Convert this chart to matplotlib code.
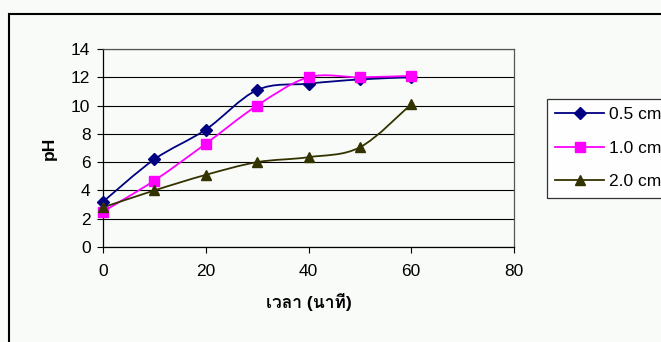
import matplotlib
matplotlib.use("Agg")
import matplotlib.pyplot as plt
from matplotlib.path import Path
from matplotlib.patches import PathPatch, Rectangle
from matplotlib.lines import Line2D
from matplotlib import font_manager
from matplotlib.ft2font import FT2Font

# ---- data ----
time_min = [0, 10, 20, 30, 40, 50, 60]
ph_05 = [3.2, 6.2, 8.3, 11.1, 11.55, 11.85, 12.0]
ph_10 = [2.5, 4.7, 7.3, 10.0, 12.0, 12.0, 12.1]
ph_20 = [2.8, 4.0, 5.1, 6.0, 6.35, 7.05, 10.1]
labels = ["0.5 cm", "1.0 cm", "2.0 cm"]
xticks = [0, 20, 40, 60, 80]
yticks = [0, 2, 4, 6, 8, 10, 12, 14]
xlabel = "เวลา (นาที)"
ylabel = "pH"

# ---- fonts ----
def find_thai_font():
    pref = []
    for f in font_manager.fontManager.ttflist:
        try:
            cm = FT2Font(f.fname).get_charmap()
        except Exception:
            continue
        if 0x0E40 in cm:
            pref.append(f)
    if pref:
        return pref[0].name
    return None

thai = find_thai_font()
base = ["Liberation Sans", "DejaVu Sans"]
fam = base + ([thai] if thai else [])
plt.rcParams["font.family"] = fam

W, H = 661, 342
bg = "#f9fbf9"
fig = plt.figure(figsize=(W / 100, H / 100), dpi=100, facecolor=bg)
ax = fig.add_axes([103 / W, 1 - 247 / H, (514 - 103) / W, (247 - 49) / H])
ax.set_facecolor(bg)

ax.set_xlim(0, 80)
ax.set_ylim(0, 14)
ax.set_xticks(xticks)
ax.set_yticks(yticks)
ax.tick_params(axis="both", direction="out", length=4, width=0.8, color="black",
               labelsize=12.5, pad=5)
ax.tick_params(axis="x", pad=8)
ax.yaxis.grid(True, color="black", linewidth=0.8)
ax.set_axisbelow(True)
for s in ["left", "bottom"]:
    ax.spines[s].set_color("black")
    ax.spines[s].set_linewidth(0.9)
for s in ["top", "right"]:
    ax.spines[s].set_color("#555555")
    ax.spines[s].set_linewidth(0.9)

def smooth_path(xs, ys):
    pts = list(zip(xs, ys))
    n = len(pts)
    verts = [pts[0]]
    codes = [Path.MOVETO]
    for i in range(n - 1):
        p0 = pts[i - 1] if i > 0 else pts[i]
        p1 = pts[i]
        p2 = pts[i + 1]
        p3 = pts[i + 2] if i + 2 < n else pts[i + 1]
        c1 = (p1[0] + (p2[0] - p0[0]) / 6, p1[1] + (p2[1] - p0[1]) / 6)
        c2 = (p2[0] - (p3[0] - p1[0]) / 6, p2[1] - (p3[1] - p1[1]) / 6)
        verts += [c1, c2, p2]
        codes += [Path.CURVE4] * 3
    return Path(verts, codes)

series = [
    (ph_05, "#000080", "D", 6.0),
    (ph_10, "#ff00ff", "s", 6.5),
    (ph_20, "#333300", "^", 7.5),
]
handles = []
for (ys, c, m, ms), lab in zip(series, labels):
    ax.add_patch(PathPatch(smooth_path(time_min, ys), fill=False, edgecolor=c,
                           linewidth=1.3, zorder=3))
    ax.plot(time_min, ys, linestyle="none", marker=m, markersize=ms,
            color=c, markeredgecolor=c, zorder=4, clip_on=False)
    handles.append(Line2D([], [], color=c, linewidth=1.3, marker=m, markersize=ms,
                          markeredgecolor=c))

ax.set_xlabel(xlabel, fontsize=12.5, fontweight="bold", labelpad=10)
ax.set_ylabel(ylabel, fontsize=12.5, fontweight="bold", labelpad=10)

leg = fig.legend(handles, labels, loc="upper left",
                 bbox_to_anchor=(547 / W, 1 - 99 / H), frameon=True,
                 fancybox=False, edgecolor="black", facecolor="white",
                 fontsize=12.5, handlelength=2.8, handletextpad=0.3,
                 labelspacing=1.05, borderpad=0.48, borderaxespad=0)
leg.get_frame().set_linewidth(0.9)

# outer chart-area border
fig.patches.append(Rectangle((9 / W, -0.1), 1.2, 1 - 14 / H + 0.1,
                             transform=fig.transFigure, fill=False,
                             edgecolor="black", linewidth=1.5))

fig.savefig("out.png", dpi=100, facecolor=bg)
